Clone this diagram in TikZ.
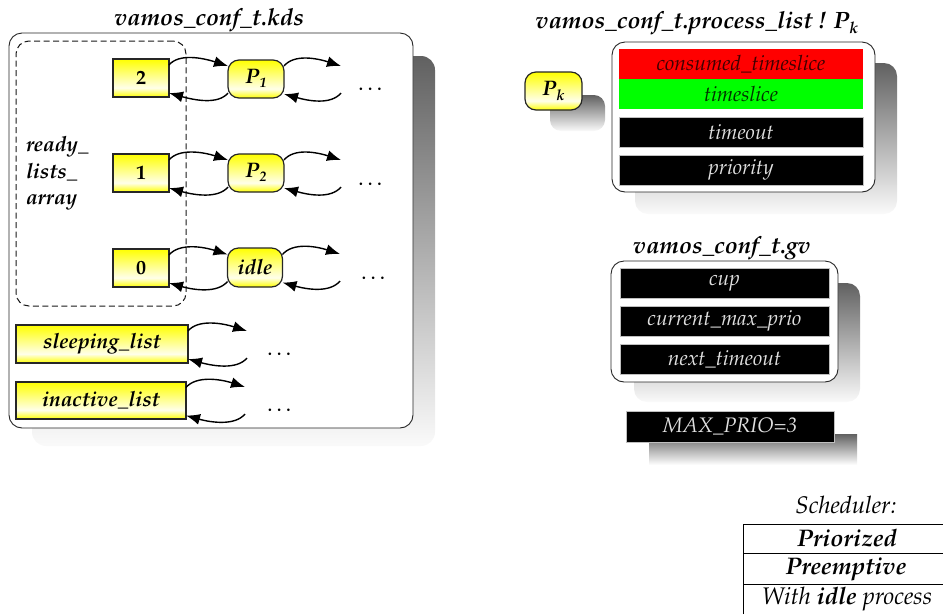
\documentclass[tikz,border=0pt]{standalone}
\usepackage[T1]{fontenc}
\usepackage{mathpazo}
\usetikzlibrary{arrows.meta}
\pgfdeclareverticalshading{yelshade}{100bp}{color(0bp)=(yellow); color(25bp)=(yellow); color(37bp)=(yellow!8!white); color(75bp)=(yellow); color(100bp)=(yellow)}
\tikzset{
  every node/.style={inner sep=0pt, outer sep=0pt},
  ttl/.style={font=\fontsize{23.6}{26}\selectfont\bfseries\itshape, anchor=base},
  shadowbox/.style={top color=black!62, bottom color=black!2, draw=none},
  frame/.style={draw=black!85, fill=white, line width=0.9pt, rounded corners=13pt},
  dashbox/.style={draw=black!90, dash pattern=on 6pt off 3.5pt, line width=1pt, rounded corners=13pt},
  ybox/.style={draw=black!85, line width=1.2pt, shading=yelshade, font=\fontsize{20}{22}\selectfont\bfseries},
  ypill/.style={ybox, rounded corners=11pt, font=\fontsize{21}{22}\selectfont\bfseries\itshape},
  lnk/.style={draw=black, line width=1.4pt, -{Latex[length=14pt,width=11pt]}},
  row/.style={minimum height=30, draw=black!25, line width=0.5pt, font=\fontsize{21}{24}\selectfont\itshape},
  blackrow/.style={row, fill=black, text=white!88!black},
  dotsn/.style={font=\fontsize{23}{24}\selectfont, anchor=base},
  sched/.style={font=\fontsize{24}{26}\selectfont\itshape},
}
\newcommand{\twoway}[2]{%
  \draw[lnk] ([yshift=13pt]#1.east) .. controls +(10pt,12pt) and +(-25pt,8pt) .. ([yshift=13pt]#2.west);
  \draw[lnk] ([yshift=-14pt]#2.west) .. controls +(-10pt,-12pt) and +(25pt,-7pt) .. ([yshift=-15pt]#1.east);
}
\begin{document}
\begin{tikzpicture}[x=1pt,y=-1pt]
\useasboundingbox (0,0) rectangle (943,614);

% ---------- left: kds ----------
\node[ttl] (tkds) at (209,25) {vamos\_conf\_t.kds};
\shade[shadowbox, rounded corners=14pt] (32,56) rectangle (435,446);
\node[frame, minimum width=404, minimum height=395] (kds) at (211,230.5) {};
\node[dashbox, minimum width=170, minimum height=265] (rla) at (101,173.5) {};
\node[font=\fontsize{21}{26.5}\selectfont\bfseries\itshape, align=left, anchor=west] (rlat) at (26,173.5) {ready\_\\lists\_\\array};

\node[ybox, minimum width=56, minimum height=38] (r2) at (141,78) {2};
\node[ybox, minimum width=56, minimum height=38] (r1) at (141,173) {1};
\node[ybox, minimum width=56, minimum height=38] (r0) at (141,268) {0};

\node[ypill, minimum width=56, minimum height=38] (p1) at (256,79) {P\raisebox{-4pt}{\fontsize{14}{14}\selectfont 1}};
\node[ypill, minimum width=56, minimum height=38] (p2) at (256,173) {P\raisebox{-4pt}{\fontsize{14}{14}\selectfont 2}};
\node[ypill, minimum width=55, minimum height=39] (pidle) at (255,267.5) {idle};

\node[ybox, minimum width=172, minimum height=38, font=\fontsize{21}{22}\selectfont\bfseries\itshape] (sl) at (102,344) {sleeping\_list};
\node[ybox, minimum width=170, minimum height=37, font=\fontsize{21}{22}\selectfont\bfseries\itshape] (il) at (101,400.5) {inactive\_list};

\coordinate (e2) at (341,79);
\coordinate (e1) at (341,173);
\coordinate (e0) at (340,267);
\coordinate (es) at (247,344);
\coordinate (ei) at (245,400);

\twoway{r2}{p1}
\twoway{p1}{e2}
\twoway{r1}{p2}
\twoway{p2}{e1}
\twoway{r0}{pidle}
\twoway{pidle}{e0}
\twoway{sl}{es}
\twoway{il}{ei}

\node[dotsn] (d2) at (372,90) {\dots};
\node[dotsn] (d1) at (372,185) {\dots};
\node[dotsn] (d0) at (375,279) {\dots};
\node[dotsn] (ds) at (281,355) {\dots};
\node[dotsn] (di) at (281,411) {\dots};

% ---------- process list ----------
\node[ttl] (tpl) at (697,28) {vamos\_conf\_t.process\_list ! P\raisebox{-5pt}{\fontsize{16}{16}\selectfont k}};
\shade[shadowbox, rounded corners=13pt] (635,63) rectangle (897,214);
\node[frame, minimum width=263, minimum height=150] (plbox) at (743.5,117) {};
\node[row, fill=red, text=black!75!red, minimum width=244, draw=none] (cts) at (741,64) {consumed\_timeslice};
\node[row, fill=green, text=black!80!green, minimum width=244, draw=none] (ts) at (741,94) {timeslice};
\node[blackrow, minimum width=244] (tmo) at (741,132) {timeout};
\node[blackrow, minimum width=244] (pri) at (741,170) {priority};

\shade[shadowbox, rounded corners=11pt] (550,95) rectangle (605,131);
\node[ypill, minimum width=57, minimum height=38] (pk) at (553.5,91) {P\raisebox{-5pt}{\fontsize{15}{15}\selectfont k}};

% ---------- gv ----------
\node[ttl] (tgv) at (722,253) {vamos\_conf\_t.gv};
\shade[shadowbox, rounded corners=13pt] (634,283) rectangle (860,402);
\node[frame, minimum width=227, minimum height=121] (gvbox) at (724.5,321.5) {};
\node[blackrow, minimum width=209] (cup) at (724.5,283.5) {cup};
\node[blackrow, minimum width=209] (cmp) at (724.5,321) {current\_max\_prio};
\node[blackrow, minimum width=209] (nto) at (724.5,359) {next\_timeout};

\shade[shadowbox] (649,434) rectangle (857,464);
\node[blackrow, minimum width=208, minimum height=31] (mp) at (730,426.5) {MAX\_PRIO=3};

% ---------- scheduler ----------
\node[sched, anchor=base] (sch) at (846,513) {Scheduler:};
\draw[line width=0.8pt] (743,614) -- (743,524) -- (943,524);
\draw[line width=0.8pt] (743,553.5) -- (943,553.5);
\draw[line width=0.8pt] (743,584) -- (943,584);
\node[sched, font=\fontsize{24}{26}\selectfont\bfseries\itshape] (s1) at (847,538.5) {Priorized};
\node[sched, font=\fontsize{24}{26}\selectfont\bfseries\itshape] (s2) at (846,569) {Preemptive};
\node[sched] (s3) at (847,599) {With \textbf{idle} process};
\end{tikzpicture}
\end{document}
